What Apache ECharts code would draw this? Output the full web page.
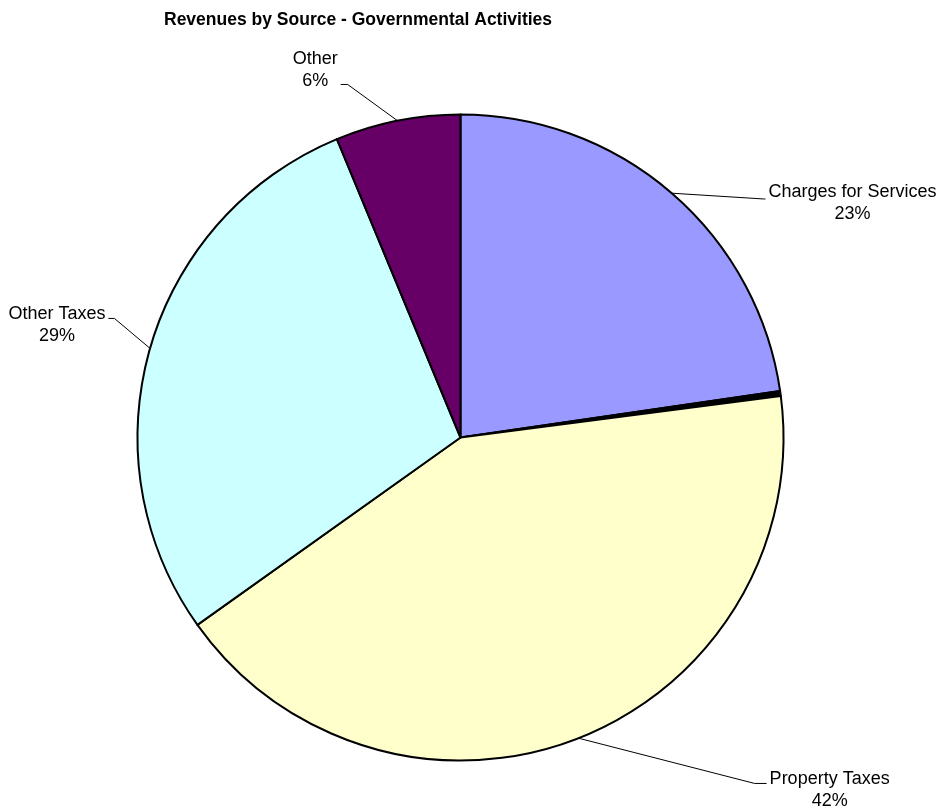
<!DOCTYPE html>
<html>
<head>
<meta charset="utf-8">
<script src="https://cdn.jsdelivr.net/npm/echarts@6/dist/echarts.min.js"></script>
<style>
html,body{margin:0;padding:0;background:#fff;}
#chart{width:942px;height:811px;}
</style>
</head>
<body>
<div id="chart"></div>
<script>
// Data (percent of total revenue)
var categories = ['Charges for Services', '', 'Property Taxes', 'Other Taxes', 'Other'];
var values = [22.7, 0.25, 42.2, 28.6, 6.25];
var colors = ['#9999FF', '#000000', '#FFFFCC', '#CCFFFF', '#660066'];
var titleText = 'Revenues by Source - Governmental Activities';

// label styling per slice (line lengths, text offsets, leader attach point)
var labelTweaks = [
  {length: 1, length2: 91, padding: [21, 0, 0, 0], attach: 18, tail: 2},
  null,
  {length: 47, length2: 169, padding: [16, 0, 0, 0], attach: 15.5, tail: 12},
  {length: 36, length2: 5, padding: [0, 0, 27, 0], attach: 15.5, tail: 6},
  {length: 40, length2: 47, padding: [0, 0, 22, 0], attach: 36, tail: 7}
];

var FONT = '"Liberation Sans", Arial, Helvetica, sans-serif';

var data = categories.map(function (name, i) {
  var item = {name: name, value: values[i], itemStyle: {color: colors[i]}};
  var t = labelTweaks[i];
  if (!t) {
    item.label = {show: false};
    item.labelLine = {show: false};
  } else {
    item.label = {padding: t.padding};
    item.labelLine = {length: t.length, length2: t.length2};
  }
  return item;
});

var chart = echarts.init(document.getElementById('chart'), null, {renderer: 'canvas'});
chart.setOption({
  backgroundColor: '#ffffff',
  animation: false,
  title: {
    text: titleText,
    left: 159,
    top: 6,
    textStyle: {fontFamily: FONT, fontSize: 17.5, fontWeight: 'bold', color: '#000'}
  },
  series: [{
    type: 'pie',
    center: [460.5, 437.5],
    radius: 323,
    startAngle: 90,
    clockwise: true,
    avoidLabelOverlap: false,
    emphasis: {disabled: true},
    itemStyle: {borderColor: '#000', borderWidth: 2},
    label: {
      show: true,
      position: 'outside',
      color: '#000',
      fontFamily: FONT,
      fontSize: 18,
      lineHeight: 22,
      overflow: 'none',
      bleedMargin: 0,
      formatter: function (p) {
        return '{a|' + p.name + '}\n{a|' + Math.round(p.percent) + '%}';
      },
      rich: {
        a: {align: 'center', fontFamily: FONT, fontSize: 18, lineHeight: 22, color: '#000'}
      }
    },
    labelLine: {show: true, lineStyle: {color: '#000', width: 1}},
    labelLayout: function (p) {
      var t = labelTweaks[p.dataIndex];
      var pts = p.labelLinePoints;
      if (!t || !pts || pts.length < 3) return {};
      var r = p.labelRect;
      var isRight = pts[2][0] > pts[0][0];
      var ey = r.y + t.padding[0] + t.attach;
      var ex = isRight ? r.x - 3 : r.x + r.width + 3;
      var mx = isRight ? ex - t.tail : ex + t.tail;
      return {labelLinePoints: [pts[0], [mx, ey], [ex, ey]]};
    },
    data: data
  }]
});
</script>
</body>
</html>
